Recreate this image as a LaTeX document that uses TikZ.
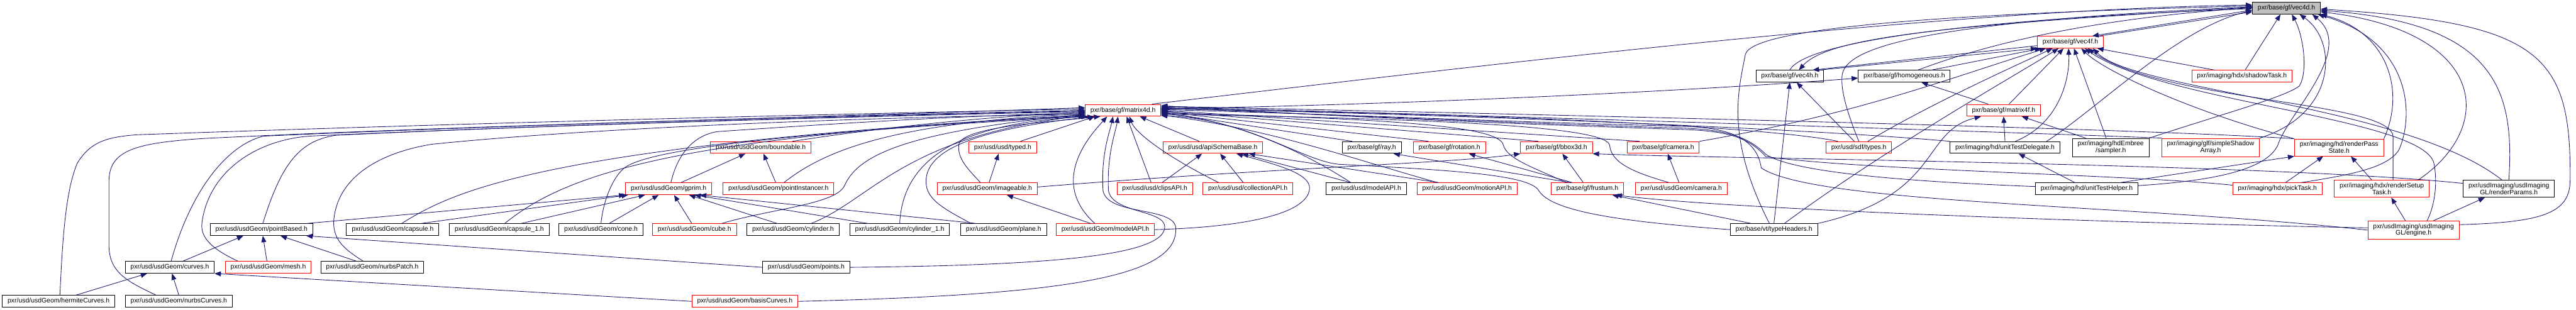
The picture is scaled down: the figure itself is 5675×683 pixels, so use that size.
\documentclass[tikz,border=0pt]{standalone}
\usepackage{fontspec}
\setmainfont{Liberation Sans}
\usetikzlibrary{arrows.meta}
\definecolor{edgeblue}{RGB}{25, 25, 112}
\definecolor{truncred}{RGB}{255, 0, 0}
\definecolor{rootgrey}{RGB}{191, 191, 191}

\begin{document}
\begin{tikzpicture}[x=0.1mm, y=0.1mm,
    hdr/.style={draw=black, line width=0.13mm, inner xsep=1.15mm, inner ysep=0.6mm,
      minimum height=2.6mm, align=center, font=\fontsize{4.12pt}{4.2pt}\selectfont},
    trunc/.style={hdr, draw=truncred},
    root/.style={hdr, fill=rootgrey},
    inc/.style={draw=edgeblue, line width=0.12mm,
      -{Triangle[length=1.4mm, width=1.1mm]}}]

  \useasboundingbox (0,0) rectangle (5675,-683);
  \fill[white] (0,0) rectangle (5675,-683);

  % ── Row 0: the header itself ─────────────────────────────────────────────
  \node[root] (vec4d) at (5037,-18) {pxr/base/gf/vec4d.h};

  % ── Rows 1-3: gf vectors and matrices ────────────────────────────────────
  \node[trunc] (vec4f) at (4561,-93) {pxr/base/gf/vec4f.h};
  \node[hdr] (vec4h) at (3943,-168) {pxr/base/gf/vec4h.h};
  \node[hdr] (homog) at (4195,-168) {pxr/base/gf/homogeneous.h};
  \node[trunc] (shadowTask) at (4939,-168) {pxr/imaging/hdx/shadowTask.h};
  \node[trunc] (matrix4d) at (2474,-243) {pxr/base/gf/matrix4d.h};
  \node[trunc] (matrix4f) at (4414,-243) {pxr/base/gf/matrix4f.h};

  % ── Row 4 ────────────────────────────────────────────────────────────────
  \node[trunc] (boundable) at (1676,-325) {pxr/usd/usdGeom/boundable.h};
  \node[trunc] (typed) at (2209,-325) {pxr/usd/usd/typed.h};
  \node[trunc] (apiSchema) at (2672,-325) {pxr/usd/usd/apiSchemaBase.h};
  \node[hdr] (ray) at (3022,-325) {pxr/base/gf/ray.h};
  \node[trunc] (rotation) at (3193,-325) {pxr/base/gf/rotation.h};
  \node[trunc] (bbox) at (3429,-325) {pxr/base/gf/bbox3d.h};
  \node[trunc] (gfCamera) at (3664,-325) {pxr/base/gf/camera.h};
  \node[trunc] (sdfTypes) at (4095,-325) {pxr/usd/sdf/types.h};
  \node[hdr] (testDelegate) at (4417,-325) {pxr/imaging/hd/unitTestDelegate.h};
  \node[hdr] (sampler) at (4650,-325) {pxr/imaging/hdEmbree\\/sampler.h};
  \node[trunc] (shadowArray) at (4870,-325) {pxr/imaging/glf/simpleShadow\\Array.h};
  \node[trunc] (passState) at (5153,-325) {pxr/imaging/hd/renderPass\\State.h};

  % ── Row 5 ────────────────────────────────────────────────────────────────
  \node[trunc] (gprim) at (1473,-416) {pxr/usd/usdGeom/gprim.h};
  \node[trunc] (instancer) at (1715,-416) {pxr/usd/usdGeom/pointInstancer.h};
  \node[trunc] (imageable) at (2175,-416) {pxr/usd/usdGeom/imageable.h};
  \node[trunc] (clipsAPI) at (2544,-416) {pxr/usd/usd/clipsAPI.h};
  \node[trunc] (collAPI) at (2749,-416) {pxr/usd/usd/collectionAPI.h};
  \node[hdr] (usdModelAPI) at (3010,-416) {pxr/usd/usd/modelAPI.h};
  \node[trunc] (motionAPI) at (3232,-416) {pxr/usd/usdGeom/motionAPI.h};
  \node[trunc] (frustum) at (3497,-416) {pxr/base/gf/frustum.h};
  \node[trunc] (geomCamera) at (3704,-416) {pxr/usd/usdGeom/camera.h};
  \node[hdr] (testHelper) at (4597,-416) {pxr/imaging/hd/unitTestHelper.h};
  \node[trunc] (pickTask) at (5017,-416) {pxr/imaging/hdx/pickTask.h};
  \node[trunc] (setupTask) at (5247,-416) {pxr/imaging/hdx/renderSetup\\Task.h};
  \node[hdr] (renderParams) at (5527,-416) {pxr/usdImaging/usdImaging\\GL/renderParams.h};

  % ── Row 6 ────────────────────────────────────────────────────────────────
  \node[hdr] (pointBased) at (576,-506) {pxr/usd/usdGeom/pointBased.h};
  \node[hdr] (capsule) at (865,-506) {pxr/usd/usdGeom/capsule.h};
  \node[hdr] (capsuleOne) at (1100,-506) {pxr/usd/usdGeom/capsule\_1.h};
  \node[hdr] (cone) at (1324,-506) {pxr/usd/usdGeom/cone.h};
  \node[trunc] (cube) at (1530,-506) {pxr/usd/usdGeom/cube.h};
  \node[hdr] (cylinder) at (1747,-506) {pxr/usd/usdGeom/cylinder.h};
  \node[hdr] (cylinderOne) at (1982,-506) {pxr/usd/usdGeom/cylinder\_1.h};
  \node[hdr] (plane) at (2211,-506) {pxr/usd/usdGeom/plane.h};
  \node[trunc] (geomModelAPI) at (2435,-506) {pxr/usd/usdGeom/modelAPI.h};
  \node[hdr] (typeHeaders) at (3908,-506) {pxr/base/vt/typeHeaders.h};
  \node[trunc] (engine) at (5317,-507) {pxr/usdImaging/usdImaging\\GL/engine.h};

  % ── Rows 7-8 ─────────────────────────────────────────────────────────────
  \node[hdr] (curves) at (374,-589) {pxr/usd/usdGeom/curves.h};
  \node[trunc] (mesh) at (591,-589) {pxr/usd/usdGeom/mesh.h};
  \node[hdr] (nurbsPatch) at (820,-589) {pxr/usd/usdGeom/nurbsPatch.h};
  \node[hdr] (points) at (1776,-589) {pxr/usd/usdGeom/points.h};
  \node[hdr] (hermite) at (129,-664) {pxr/usd/usdGeom/hermiteCurves.h};
  \node[hdr] (nurbsCurves) at (394,-664) {pxr/usd/usdGeom/nurbsCurves.h};
  \node[trunc] (basisCurves) at (1641,-664) {pxr/usd/usdGeom/basisCurves.h};

  % ── Includes of vec4d.h ──────────────────────────────────────────────────
  \draw[inc] ([xshift=-1mm]vec4f.north east) -- ([yshift=-0.8mm]vec4d.west);
  \draw[inc] ([yshift=-0.4mm]vec4d.west) -- ([xshift=-2.5mm]vec4f.north east);
  \draw[inc] (vec4h.north) .. controls (3975,-95) and (4300,-45) .. ([yshift=-0.1mm]vec4d.west);
  \draw[inc] ([yshift=0.2mm]vec4d.west) .. controls (4300,-55) and (4030,-80) .. ([xshift=2mm]vec4h.north);
  \draw[inc] ([xshift=3mm]homog.north) .. controls (4330,-115) and (4550,-45) .. ([yshift=0.1mm]vec4d.west);
  \draw[inc] ([xshift=-2mm]matrix4d.north east) .. controls (3300,-140) and (4300,-20) .. ([yshift=0.7mm]vec4d.west);
  \draw[inc] (sdfTypes.north) .. controls (4070,-250) and (4055,-200) .. (4058,-168)
    .. controls (4062,-110) and (4200,-50) .. ([yshift=0.3mm]vec4d.west);
  \draw[inc] ([xshift=-1mm]typeHeaders.north) .. controls (3800,-300) and (3830,-200) .. (3845,-120)
    .. controls (3860,-60) and (4300,-30) .. ([yshift=0.5mm]vec4d.west);
  \draw[inc] ([xshift=-3mm]testDelegate.north east) .. controls (4620,-240) and (4800,-60) .. ([yshift=-0.5mm]vec4d.west);
  \draw[inc] ([xshift=0.7mm]shadowTask.north) -- ([xshift=-1.3mm]vec4d.south);
  \draw[inc] (sampler.north east) .. controls (4900,-250) and (5030,-215) .. (5065,-190)
    .. controls (5085,-160) and (5075,-80) .. ([xshift=1.2mm]vec4d.south);
  \draw[inc] (shadowArray.north east) .. controls (5150,-250) and (5150,-90) .. ([xshift=2.9mm]vec4d.south);
  \draw[inc] ([yshift=0.7mm]testHelper.east) .. controls (4850,-400) and (4990,-380) .. (5018,-320)
    .. controls (5040,-250) and (5190,-110) .. ([xshift=5.7mm]vec4d.south);
  \draw[inc] ([xshift=-4.7mm]pickTask.north east) .. controls (5180,-385) and (5260,-370) .. (5285,-330)
    .. controls (5320,-250) and (5310,-90) .. ([xshift=-0.6mm]vec4d.south east);
  \draw[inc] (passState.north east) .. controls (5300,-200) and (5260,-70) .. (vec4d.south east);
  \draw[inc] ([xshift=-2.5mm]setupTask.north east) .. controls (5500,-280) and (5480,-70) .. ([yshift=-0.8mm]vec4d.east);
  \draw[inc] (renderParams.north) .. controls (5540,-200) and (5500,-50) .. ([yshift=-0.5mm]vec4d.east);
  \draw[inc] ([yshift=1.2mm]engine.east) .. controls (5600,-490) and (5660,-470) .. (5662,-400)
    .. controls (5665,-120) and (5600,-50) .. ([yshift=-0.2mm]vec4d.east);

  % ── Includes of vec4f.h ──────────────────────────────────────────────────
  \draw[inc] ([xshift=-1mm]vec4h.north east) -- (vec4f.south west);
  \draw[inc] ([yshift=0.6mm]vec4f.south west) -- ([xshift=-2.5mm]vec4h.north east);
  \draw[inc] ([xshift=6mm]homog.north) -- ([xshift=-6.4mm]vec4f.south);
  \draw[inc] (gfCamera.north east) .. controls (4100,-250) and (4300,-170) .. ([xshift=-5.4mm]vec4f.south);
  \draw[inc] ([xshift=2mm]sdfTypes.north) .. controls (4250,-230) and (4450,-140) .. ([xshift=-3.9mm]vec4f.south);
  \draw[inc] ([xshift=2.3mm]typeHeaders.north) .. controls (4150,-330) and (4450,-160) .. ([xshift=-2.6mm]vec4f.south);
  \draw[inc] ([xshift=1.2mm]matrix4f.north) -- ([xshift=-1.5mm]vec4f.south);
  \draw[inc] ([xshift=2.3mm]testDelegate.north) .. controls (4540,-270) and (4560,-170) .. ([xshift=-0.4mm]vec4f.south);
  \draw[inc] ([xshift=-1mm]sampler.north) -- ([xshift=0.8mm]vec4f.south);
  \draw[inc] (passState.north west) .. controls (4840,-250) and (4640,-160) .. ([xshift=2.4mm]vec4f.south);
  \draw[inc] ([xshift=-6mm]shadowTask.north) -- ([xshift=-1.4mm]vec4f.south east);
  \draw[inc] ([xshift=2.5mm]setupTask.north) -- ++(0,95)
    .. controls +(0,80) and (4760,-225) .. ([xshift=3.9mm]vec4f.south);
  \draw[inc] ([xshift=-1.5mm]renderParams.north) .. controls (5300,-230) and (4700,-200) .. ([xshift=5mm]vec4f.south);
  \draw[inc] ([xshift=3mm]engine.north) .. controls (5365,-450) and (5370,-400) .. (5362,-360)
    .. controls (5340,-260) and (4760,-225) .. ([xshift=3.2mm]vec4f.south);

  % ── vec4h.h, homogeneous.h, matrix4f.h ───────────────────────────────────
  \draw[inc] ([xshift=-1mm]sdfTypes.north) -- ([xshift=1.5mm]vec4h.south);
  \draw[inc] (typeHeaders.north) -- (vec4h.south);
  \draw[inc] ([yshift=0.3mm]matrix4d.east) .. controls (3200,-228) and (3800,-195) .. ([yshift=-0.4mm]homog.west);
  \draw[inc] ([xshift=-3.4mm]matrix4f.north) -- ([xshift=3.8mm]homog.south);
  \draw[inc] (typeHeaders.north east) .. controls (4280,-430) and (4230,-290) .. ([xshift=-5mm]matrix4f.south);
  \draw[inc] (testDelegate.north) -- (matrix4f.south);
  \draw[inc] ([xshift=-5.5mm]sampler.north) -- ([xshift=4mm]matrix4f.south);

  % ── matrix4d.h, from the left ────────────────────────────────────────────
  \draw[inc] ([xshift=0.3mm]hermite.north) .. controls (138,-520) and (145,-420) .. (170,-360)
    .. controls (200,-310) and (240,-302) .. (300,-297)
    .. controls (1000,-272) and (1800,-252) .. (matrix4d.178);
  \draw[inc] ([xshift=-5mm]nurbsCurves.north) .. controls (280,-620) and (240,-600) .. (240,-540)
    -- (240,-400) .. controls (240,-330) and (300,-315) .. (450,-305)
    .. controls (1000,-278) and (1850,-255) .. (matrix4d.180);
  \draw[inc] ([xshift=0.3mm]curves.north) .. controls (420,-420) and (500,-320) .. (580,-300)
    .. controls (1100,-276) and (1900,-255) .. (matrix4d.176);
  \draw[inc] ([xshift=-6.7mm]mesh.north) .. controls (470,-550) and (440,-525) .. (445,-490)
    .. controls (460,-380) and (560,-310) .. (680,-300)
    .. controls (1200,-276) and (1900,-256) .. (matrix4d.182);
  \draw[inc] ([xshift=0.3mm]pointBased.north) .. controls (620,-360) and (660,-310) .. (740,-298)
    .. controls (1200,-276) and (1900,-255) .. (matrix4d.181);
  \draw[inc] ([xshift=-2mm]nurbsPatch.north) .. controls (760,-550) and (735,-530) .. (735,-490)
    .. controls (740,-400) and (820,-340) .. (950,-318)
    .. controls (1300,-282) and (1900,-258) .. (matrix4d.186);
  \draw[inc] ([xshift=2mm]capsule.north) .. controls (1000,-420) and (1200,-320) .. (matrix4d.187);
  \draw[inc] ([xshift=1.2mm]capsuleOne.north) .. controls (1250,-380) and (1500,-300) .. (matrix4d.188);
  \draw[inc] (cone.north) .. controls (1328,-450) and (1345,-400) .. (1370,-375)
    .. controls (1400,-340) and (1600,-300) .. (matrix4d.189);
  \draw[inc] ([xshift=6mm]cube.north) .. controls (1700,-460) and (1840,-450) .. (1860,-410)
    .. controls (1890,-340) and (2000,-290) .. (matrix4d.186);
  \draw[inc] ([xshift=4mm]cylinder.north) .. controls (1920,-440) and (1990,-300) .. (matrix4d.188);
  \draw[inc] (cylinderOne.north) .. controls (1990,-330) and (2150,-270) .. (matrix4d.190);
  \draw[inc] ([xshift=-7.2mm]plane.north) .. controls (2080,-460) and (2040,-440) .. (2040,-400)
    .. controls (2040,-330) and (2150,-285) .. (matrix4d.192);
  \draw[inc] ([xshift=0.5mm]gprim.north) .. controls (1490,-350) and (1520,-300) .. (1580,-290)
    .. controls (1800,-275) and (2100,-255) .. (matrix4d.184);
  \draw[inc] ([xshift=1.2mm]instancer.north) .. controls (1830,-320) and (2000,-270) .. (matrix4d.185);
  \draw[inc] ([xshift=7mm]boundable.north) .. controls (1850,-295) and (2100,-260) .. (matrix4d.183);

  % ── matrix4d.h, from below ───────────────────────────────────────────────
  \draw[inc] ([xshift=3.9mm]typed.north) -- ([xshift=-6.2mm]matrix4d.south);
  \draw[inc] ([xshift=-1.5mm]imageable.north) .. controls (2130,-370) and (2110,-350) .. (2112,-320)
    .. controls (2115,-280) and (2300,-270) .. ([xshift=-5mm]matrix4d.south);
  \draw[inc] ([xshift=-2.3mm]geomModelAPI.north) .. controls (2310,-400) and (2400,-300) .. ([xshift=-3.5mm]matrix4d.south);
  \draw[inc] (points.east) .. controls (2300,-585) and (2565,-565) .. (2566,-500)
    .. controls (2566,-462) and (2450,-470) .. (2442,-420)
    .. controls (2438,-340) and (2458,-290) .. ([xshift=-1.1mm]matrix4d.south);
  \draw[inc] (basisCurves.east) .. controls (2350,-650) and (2600,-610) .. (2590,-500)
    .. controls (2582,-455) and (2440,-475) .. (2430,-420)
    .. controls (2425,-340) and (2445,-290) .. ([xshift=-2.2mm]matrix4d.south);
  \draw[inc] ([xshift=-0.8mm]clipsAPI.north) -- ([xshift=0.8mm]matrix4d.south);
  \draw[inc] ([xshift=-6.4mm]collAPI.north) .. controls (2560,-340) and (2500,-290) .. ([xshift=1.4mm]matrix4d.south);
  \draw[inc] ([xshift=-3mm]apiSchema.north) -- ([xshift=3.7mm]matrix4d.south);

  % ── matrix4d.h, from the right ───────────────────────────────────────────
  \draw[inc] ([xshift=-3.4mm]usdModelAPI.north) .. controls (2850,-320) and (2700,-262) .. (matrix4d.355);
  \draw[inc] ([xshift=-6.5mm]motionAPI.north) .. controls (2980,-350) and (2800,-285) .. (matrix4d.353);
  \draw[inc] ([xshift=-4.3mm]ray.north) -- (matrix4d.357);
  \draw[inc] ([xshift=-4.6mm]rotation.north) -- (matrix4d.358);
  \draw[inc] ([xshift=-4mm]bbox.north) -- (matrix4d.359);
  \draw[inc] ([xshift=-5.2mm]gfCamera.north) -- (matrix4d.0);
  \draw[inc] ([xshift=-4.6mm]frustum.north) .. controls (3380,-370) and (3320,-350) .. (3312,-320)
    .. controls (3305,-280) and (3100,-262) .. (matrix4d.356);
  \draw[inc] ([xshift=-2.7mm]geomCamera.north) .. controls (3600,-380) and (3550,-360) .. (3546,-320)
    .. controls (3540,-280) and (3200,-262) .. (matrix4d.354);
  \draw[inc] ([xshift=-4.6mm]sdfTypes.north) .. controls (3900,-280) and (3300,-250) .. (matrix4d.2);
  \draw[inc] (testDelegate.north west) .. controls (4000,-285) and (3300,-255) .. (matrix4d.3);
  \draw[inc] ([yshift=0.5mm]testHelper.west) .. controls (4200,-400) and (3950,-380) .. (3890,-340)
    .. controls (3850,-300) and (3800,-285) .. (3700,-282)
    .. controls (3300,-270) and (2900,-252) .. (matrix4d.4);
  \draw[inc] (shadowArray.north west) .. controls (4400,-290) and (3300,-255) .. (matrix4d.5);
  \draw[inc] (passState.north west) .. controls (4700,-282) and (3300,-250) .. (matrix4d.6);
  \draw[inc] ([yshift=0.8mm]pickTask.west) .. controls (4700,-385) and (4100,-375) .. (3890,-345)
    .. controls (3850,-300) and (3800,-288) .. (3700,-285)
    .. controls (3300,-272) and (2900,-255) .. (matrix4d.7);
  \draw[inc] (engine.west) .. controls (4700,-450) and (4000,-450) .. (3880,-370)
    .. controls (3870,-300) and (3800,-280) .. (3700,-278)
    .. controls (3300,-268) and (2900,-250) .. (matrix4d.1);
  \draw[inc] (typeHeaders.west) .. controls (3600,-490) and (3420,-470) .. (3390,-420)
    .. controls (3370,-385) and (3200,-375) .. (2950,-362)
    .. controls (2870,-355) and (2750,-262) .. (matrix4d.352);

  % ── usdGeom: gprim, boundable, pointBased, curves ────────────────────────
  \draw[inc] ([xshift=-1.4mm]pointBased.north east) -- (gprim.south west);
  \draw[inc] ([xshift=-4mm]capsule.north east) -- ([xshift=0.6mm]gprim.south west);
  \draw[inc] ([xshift=4.8mm]capsuleOne.north) -- ([xshift=-5.2mm]gprim.south);
  \draw[inc] ([xshift=1.8mm]cone.north) -- ([xshift=-2.2mm]gprim.south);
  \draw[inc] ([xshift=-0.6mm]cube.north) -- ([xshift=1.2mm]gprim.south);
  \draw[inc] ([xshift=-3.5mm]cylinder.north) -- ([xshift=4.5mm]gprim.south);
  \draw[inc] ([xshift=-7mm]cylinderOne.north) -- ([xshift=5.7mm]gprim.south);
  \draw[inc] ([xshift=-6mm]plane.north) -- ([xshift=6.9mm]gprim.south);
  \draw[inc] ([xshift=2.7mm]gprim.north) -- ([xshift=-3.4mm]boundable.south);
  \draw[inc] ([xshift=-0.6mm]instancer.north) -- ([xshift=0.6mm]boundable.south);
  \draw[inc] ([xshift=2.9mm]curves.north) -- ([xshift=-4mm]pointBased.south);
  \draw[inc] ([xshift=-0.3mm]mesh.north) -- ([xshift=0.3mm]pointBased.south);
  \draw[inc] ([xshift=-3.5mm]nurbsPatch.north) -- ([xshift=4.2mm]pointBased.south);
  \draw[inc] (points.west) -- ([xshift=-1.5mm]pointBased.south east);
  \draw[inc] ([xshift=3.8mm]hermite.north) -- ([xshift=-5mm]curves.south);
  \draw[inc] (nurbsCurves.north) -- ([xshift=0.5mm]curves.south);
  \draw[inc] (basisCurves.west) -- (curves.south east);

  % ── usd schemas ──────────────────────────────────────────────────────────
  \draw[inc] ([xshift=0.4mm]imageable.north) -- ([xshift=-0.9mm]typed.south);
  \draw[inc] ([yshift=0.4mm]imageable.east) .. controls (2800,-370) and (3200,-360) .. (bbox.south west);
  \draw[inc] ([xshift=-3.2mm]geomModelAPI.north) -- ([xshift=4.3mm]imageable.south);
  \draw[inc] (geomModelAPI.east) .. controls (2750,-500) and (2880,-470) .. (2885,-416)
    .. controls (2888,-380) and (2800,-360) .. ([xshift=5.2mm]apiSchema.south);
  \draw[inc] ([xshift=1.6mm]clipsAPI.north) -- ([xshift=-2.4mm]apiSchema.south);
  \draw[inc] ([xshift=-1mm]collAPI.north) -- ([xshift=1.6mm]apiSchema.south);
  \draw[inc] ([xshift=-3.4mm]usdModelAPI.north) -- ([xshift=6.4mm]apiSchema.south);
  \draw[inc] ([xshift=-6.2mm]motionAPI.north) -- ([xshift=7.9mm]apiSchema.south);

  % ── gf: ray, rotation, bbox3d, frustum, camera ───────────────────────────
  \draw[inc] ([xshift=-3.7mm]frustum.north) -- ([xshift=4.8mm]ray.south);
  \draw[inc] ([xshift=-3.3mm]frustum.north) -- ([xshift=4.3mm]rotation.south);
  \draw[inc] ([xshift=-0.9mm]frustum.north) -- ([xshift=1.3mm]bbox.south);
  \draw[inc] ([yshift=1.2mm]renderParams.west) .. controls (5000,-360) and (3800,-350) .. (bbox.south east);
  \draw[inc] ([xshift=-0.5mm]geomCamera.north) -- ([xshift=1mm]gfCamera.south);
  \draw[inc] ([xshift=-5mm]typeHeaders.north) -- ([xshift=5.5mm]frustum.south);
  \draw[inc] ([yshift=0.5mm]engine.west) .. controls (4600,-490) and (3800,-460) .. ([xshift=6.2mm]frustum.south);

  % ── hd, hdx and usdImaging ───────────────────────────────────────────────
  \draw[inc] ([xshift=-2.6mm]testHelper.north) -- ([xshift=3mm]testDelegate.south);
  \draw[inc] ([xshift=-4mm]testHelper.north east) -- (passState.south west);
  \draw[inc] ([xshift=1.8mm]pickTask.north) -- ([xshift=-3.5mm]passState.south);
  \draw[inc] ([xshift=-2.2mm]setupTask.north) -- ([xshift=2.6mm]passState.south);
  \draw[inc] ([xshift=-1.8mm]engine.north) -- ([xshift=2.1mm]setupTask.south);
  \draw[inc] ([xshift=4.4mm]engine.north) -- ([xshift=-5.3mm]renderParams.south);

\end{tikzpicture}
\end{document}
